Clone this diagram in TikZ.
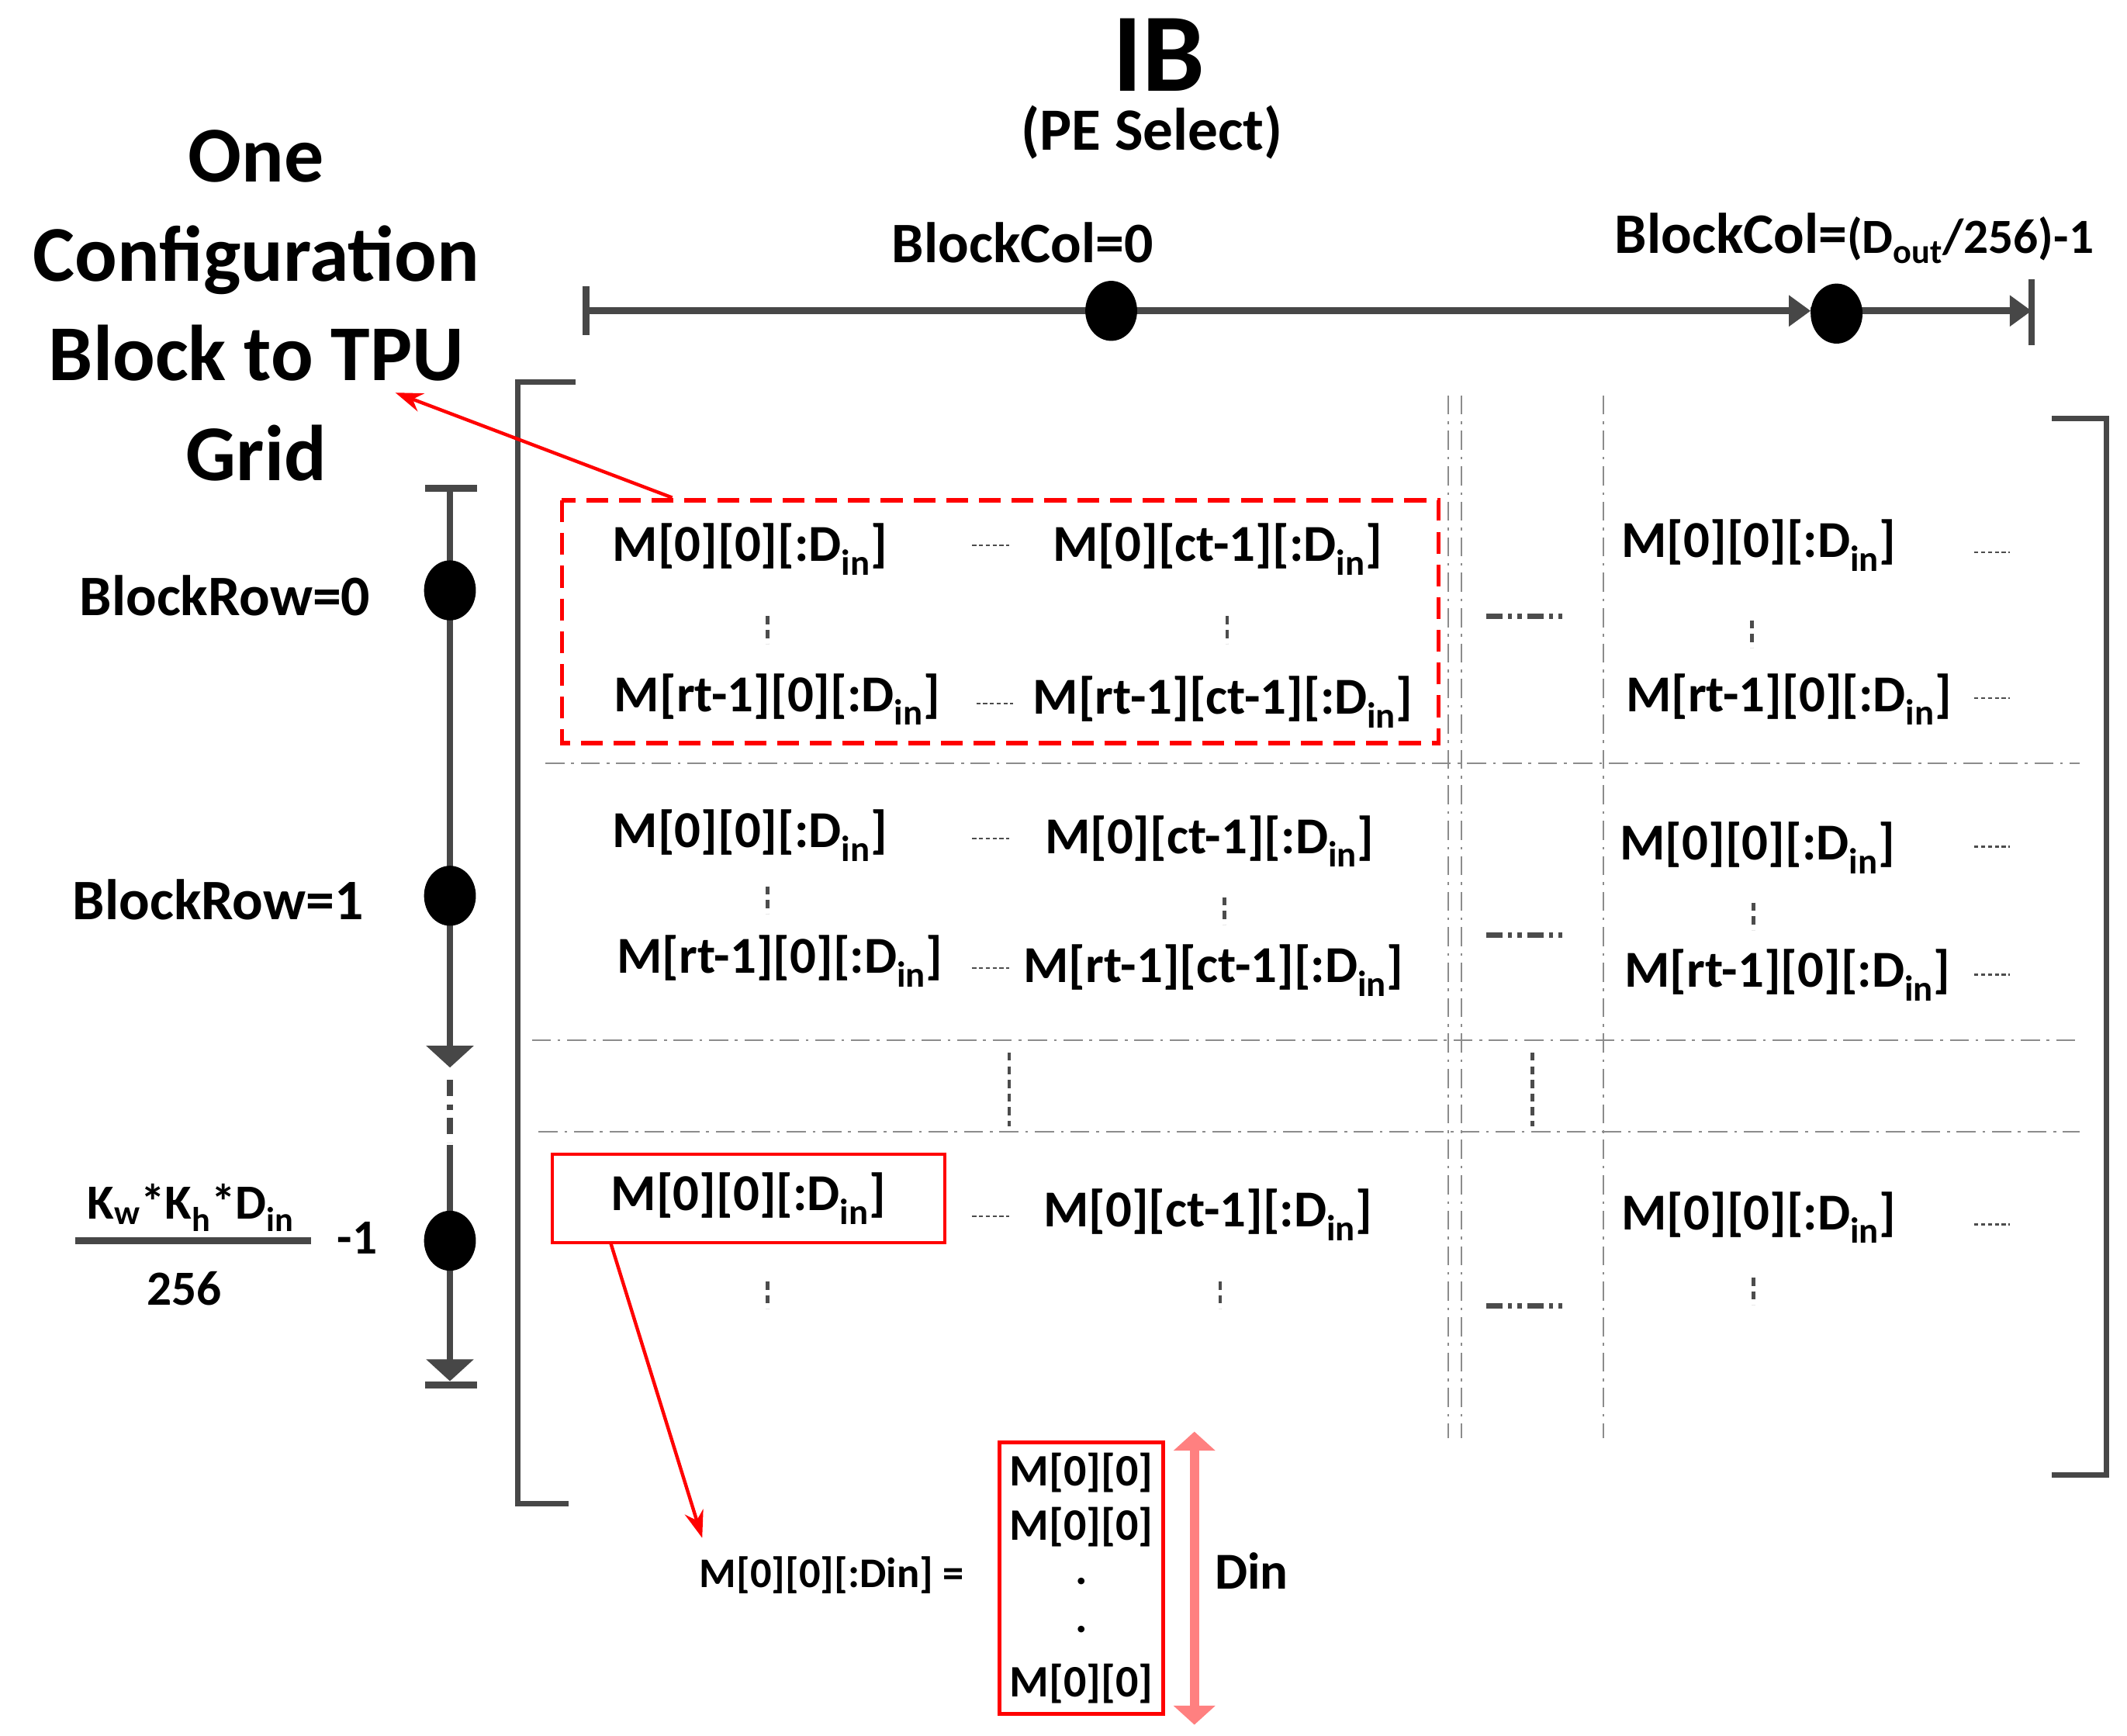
\documentclass[tikz,border=0pt]{standalone}
\usepackage{fontspec}
\setmainfont{Carlito}
\usetikzlibrary{arrows.meta,shapes.geometric}
\newcommand{\Din}{D\textsubscript{in}}
\begin{document}
\begin{tikzpicture}[x=1pt,y=-1pt,
  ax/.style={line width=5pt,draw=black!72},
  dot/.style={ellipse,fill=black,minimum width=38pt,minimum height=44pt,inner sep=0pt},
  lbl/.style={font=\fontsize{42}{46}\selectfont\bfseries,inner sep=0pt},
  cell/.style={font=\fontsize{38}{42}\selectfont\bfseries,inner sep=0pt},
  grid/.style={draw=black!45,line width=1.2pt,dash pattern=on 14pt off 5pt on 2pt off 5pt},
  sd/.style={draw=black!70,line width=1.5pt,dash pattern=on 3pt off 2pt},
  vd/.style={draw=black!70,line width=2.5pt,dash pattern=on 6pt off 4pt},
  dd/.style={draw=black!70,line width=4pt,dash pattern=on 12pt off 4pt on 3pt off 4pt on 3pt off 4pt},
  brk/.style={draw=black!72,line width=4pt},
  rarr/.style={draw=red,line width=2.5pt,-{Stealth[length=20pt,width=14pt]}}]
\useasboundingbox (0,0) rectangle (1560,1273);
% titles
\node[font=\fontsize{82}{84}\selectfont\bfseries,inner sep=0pt] (ib) at (850,40) {IB};
\node[font=\fontsize{44}{46}\selectfont\bfseries,inner sep=0pt] (pe) at (845,97) {(PE Select)};
\node[align=center,font=\fontsize{58}{73}\selectfont\bfseries] (one) at (188,224) {One\\Configuration\\Block to TPU\\Grid};
\coordinate (titlept) at (290,288);
% top axis
\coordinate (t0) at (430,228); \coordinate (t1) at (1490,228);
\draw[ax] (430,210) -- (430,246);
\draw[ax] (1490,205) -- (1490,253);
\draw[ax,-{Triangle[length=16pt,width=22pt]}] (t0) -- (1328,228);
\draw[ax,-{Triangle[length=16pt,width=22pt]}] (1328,228) -- (t1);
\node[dot] (c0) at (815,228) {};
\node[dot] (c1) at (1347,230) {};
\node[lbl] (bc0) at (750,178) {BlockCol=0};
\node[lbl] (bc1) at (1360,175) {BlockCol=\fontsize{36}{38}\selectfont(D\textsubscript{out}/256)-1};
% left axis
\draw[ax] (312,358) -- (350,358);
\draw[ax,-{Triangle[length=16pt,width=34pt]}] (330,358) -- (330,783);
\draw[ax,dash pattern=on 12pt off 6pt on 4pt off 6pt] (330,792) -- (330,838);
\draw[ax,-{Triangle[length=16pt,width=34pt]}] (330,840) -- (330,1013);
\draw[ax] (312,1016) -- (350,1016);
\node[dot] (r0) at (330,433) {};
\node[dot] (r1) at (330,657) {};
\node[dot] (r2) at (330,910) {};
\node[lbl] (br0) at (165,437) {BlockRow=0};
\node[lbl] (br1) at (160,660) {BlockRow=1};
\node[lbl,font=\fontsize{36}{38}\selectfont\bfseries] (fr1) at (140,886) {K\textsubscript{w}*K\textsubscript{h}*D\textsubscript{in}};
\draw[ax] (55,910) -- (228,910);
\node[lbl,font=\fontsize{36}{38}\selectfont\bfseries] (fr2) at (135,945) {256};
\node[lbl,font=\fontsize{36}{38}\selectfont\bfseries] (fr3) at (262,908) {-1};
% brackets
\draw[brk] (422,280) -- (380,280) -- (380,1103) -- (417,1103);
\draw[brk] (1505,307) -- (1545,307) -- (1545,1082) -- (1505,1082);
% grid
\draw[grid] (400,560) -- (1525,560);
\draw[grid] (390,763) -- (1525,763);
\draw[grid] (395,830) -- (1525,830);
\draw[grid] (1062,290) -- (1062,1055);
\draw[grid] (1072,290) -- (1072,1055);
\draw[grid] (1176,290) -- (1176,1055);
% red boxes
\draw[red,line width=3pt,dash pattern=on 16pt off 8pt] (412,367) rectangle (1055,545);
\coordinate (blk) at (493,365);
\draw[rarr] (blk) -- (titlept);
\node[draw=red,line width=2.5pt,minimum width=288pt,minimum height=65pt,inner sep=0pt] (box) at (549,879) {};
% cells row 0
\node[cell] (a1) at (550,403) {M[0][0][:\Din]};
\node[cell] (a2) at (893,403) {M[0][ct-1][:\Din]};
\node[cell] (a3) at (570,513) {M[rt-1][0][:\Din]};
\node[cell] (a4) at (897,515) {M[rt-1][ct-1][:\Din]};
\node[cell] (a5) at (1290,400) {M[0][0][:\Din]};
\node[cell] (a6) at (1312,513) {M[rt-1][0][:\Din]};
% row 1
\node[cell] (b1) at (550,613) {M[0][0][:\Din]};
\node[cell] (b2) at (887,617) {M[0][ct-1][:\Din]};
\node[cell] (b3) at (572,705) {M[rt-1][0][:\Din]};
\node[cell] (b4) at (890,712) {M[rt-1][ct-1][:\Din]};
\node[cell] (b5) at (1289,622) {M[0][0][:\Din]};
\node[cell] (b6) at (1311,715) {M[rt-1][0][:\Din]};
% last row
\node[cell] (d1) at (549,879) {M[0][0][:\Din]};
\node[cell] (d2) at (886,891) {M[0][ct-1][:\Din]};
\node[cell] (d5) at (1290,893) {M[0][0][:\Din]};
% small dashes
\foreach \x/\y in {713/400,716/516,713/615,713/710,713/892}
  \draw[sd] (\x,\y) -- ++(27,0);
\foreach \y in {405,512,621,715,898}
  \draw[sd] (1448,\y) -- ++(26,0);
% vertical dots
\foreach \x/\y in {563/452,900/452,1285/455,563/650,898/658,1286/662,563/940,895/940,1286/937}
  \draw[vd] (\x,\y) -- ++(0,20);
\draw[vd] (740,772) -- (740,826);
\draw[vd] (1124,772) -- (1124,826);
% between-column dash dots
\foreach \y in {452,686,958}
  \draw[dd] (1090,\y) -- (1146,\y);
% zoom-in
\node[font=\fontsize{31}{34}\selectfont\bfseries,inner sep=0pt] (eq) at (610,1155) {M[0][0][:Din] =};
\coordinate (eqtop) at (515,1128);
\draw[rarr] (448,912) -- (eqtop);
\node[draw=red,line width=2.5pt,minimum width=120pt,minimum height=199pt,inner sep=0pt] (stk) at (793,1157.5) {};
\node[font=\fontsize{33}{36}\selectfont\bfseries,inner sep=0pt] (s1) at (793,1080) {M[0][0]};
\node[font=\fontsize{33}{36}\selectfont\bfseries,inner sep=0pt] (s2) at (793,1120) {M[0][0]};
\node[font=\fontsize{33}{36}\selectfont\bfseries,inner sep=0pt] (s3) at (793,1160) {.};
\node[font=\fontsize{33}{36}\selectfont\bfseries,inner sep=0pt] (s4) at (793,1195) {.};
\node[font=\fontsize{33}{36}\selectfont\bfseries,inner sep=0pt] (s5) at (793,1235) {M[0][0]};
\coordinate (da) at (876,1050); \coordinate (db) at (876,1265);
\draw[red!50,line width=7pt,{Triangle[length=14pt,width=30pt]}-{Triangle[length=14pt,width=30pt]}] (da) -- (db);
\node[font=\fontsize{38}{40}\selectfont\bfseries,inner sep=0pt] (din) at (918,1152) {Din};
\end{tikzpicture}
\end{document}
